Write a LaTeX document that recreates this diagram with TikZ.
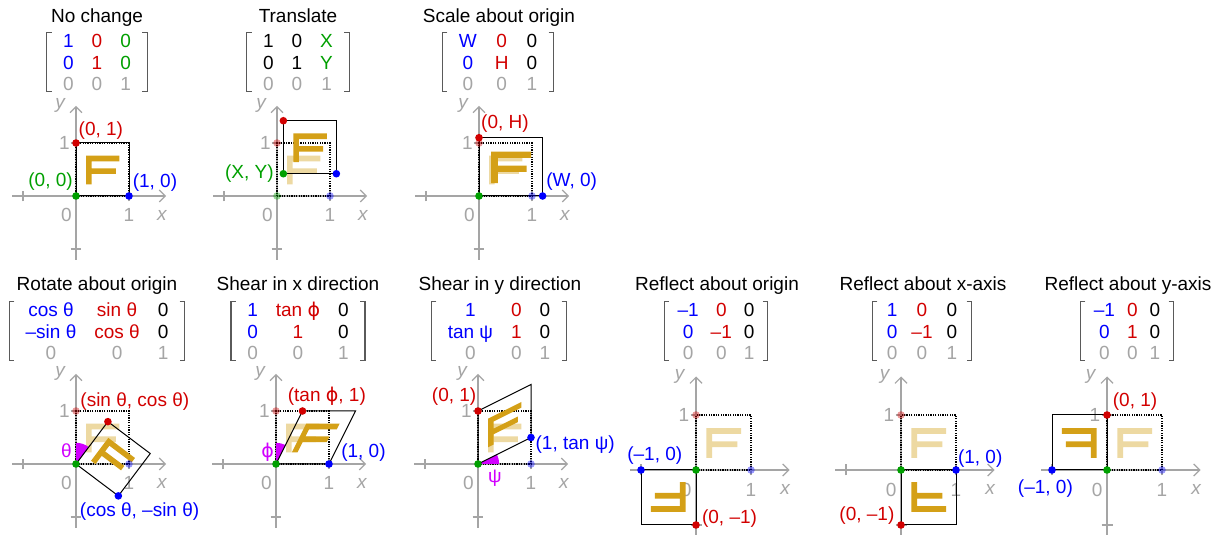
\documentclass[tikz,border=0pt]{standalone}
\usepackage{fontspec}
\setmainfont{Liberation Sans}
\newfontfamily\phifont{DejaVu Sans}
\usetikzlibrary{arrows.meta}
\definecolor{cblue}{RGB}{0,0,255}
\definecolor{cred}{RGB}{210,0,0}
\definecolor{cgreen}{RGB}{0,160,0}
\definecolor{cgray}{RGB}{165,165,165}
\definecolor{cgold}{RGB}{212,160,23}
\definecolor{cmag}{RGB}{210,0,255}
\definecolor{cbrack}{RGB}{90,90,90}
\newcommand\colB[1]{\textcolor{cblue}{#1}}
\newcommand\colR[1]{\textcolor{cred}{#1}}
\newcommand\colG[1]{\textcolor{cgreen}{#1}}
\newcommand\colY[1]{\textcolor{cgray}{#1}}
\newcommand\myphi{{\phifont ϕ}}
\setlength\tabcolsep{4.5pt}
\newcommand\Fglyph{(0.19,0.22) -- (0.295,0.22) -- (0.295,0.415) -- (0.75,0.415) -- (0.75,0.52) -- (0.295,0.52) -- (0.295,0.655) -- (0.82,0.655) -- (0.82,0.76) -- (0.19,0.76) -- cycle}
\newcommand\usq{(0,0) -- (1,0) -- (1,1) -- (0,1) -- cycle}
\tikzset{
 txt/.style={font=\fontsize{9.5}{10.8}\selectfont, inner sep=0pt},
 title/.style={txt, anchor=base},
 mat/.style={txt, inner xsep=3.5pt, inner ysep=0pt},
 brack/.style={cbrack, line width=0.6pt},
 axisline/.style={cgray, line width=0.6pt, -{Straight Barb[length=3pt,width=6pt]}},
 tickline/.style={cgray, line width=0.6pt},
 ticklbl/.style={txt, text=cgray},
 axlbl/.style={txt, text=cgray, font=\fontsize{9.5}{10.8}\selectfont\itshape},
 dot/.style={circle, inner sep=0pt, minimum size=3.8pt, fill=#1},
 fdot/.style={circle, inner sep=0pt, minimum size=3.8pt, fill=#1, fill opacity=0.4},
 newshape/.style={black, line width=0.5pt},
 origshape/.style={black, line width=0.55pt, dash pattern=on 0.6pt off 0.6pt},
 Ffull/.style={fill=cgold},
 Ffade/.style={fill=cgold, fill opacity=0.4},
 wedge/.style={fill=cmag},
 lbl/.style={txt, text=#1},
}
\newcommand\drawaxes[1]{%
 \draw[axisline] (-1.2,0) -- (1.7,0);
 \draw[axisline] (0,-1.2) -- (0,1.7);
 \draw[tickline] (-1,-0.1) -- (-1,0.1) (1,-0.1) -- (1,0.1) (-0.1,-1) -- (0.1,-1) (-0.1,1) -- (0.1,1);
 \node[ticklbl] (#1o) at (-0.18,-0.36) {0};
 \node[ticklbl] (#1xa) at (1,-0.36) {1};
 \node[ticklbl] (#1ya) at (-0.22,1) {1};
 \node[axlbl] (#1x) at (1.62,-0.36) {x};
 \node[axlbl] (#1y) at (-0.3,1.7) {y};
}
\newcommand\brk[1]{%
 \draw[brack] ([xshift=2.5pt]#1.north west) -- (#1.north west) -- ([yshift=3.2pt]#1.south west) -- ++(2.5pt,0);
 \draw[brack] ([xshift=-2.5pt]#1.north east) -- (#1.north east) -- ([yshift=3.2pt]#1.south east) -- ++(-2.5pt,0);}
\begin{document}
\begin{tikzpicture}[x=0.5pt,y=0.5pt]
\useasboundingbox[fill=white] (0,0) rectangle (1222,535);

% ---------- titles ----------
\node[title] (t1) at (97,512.3) {No change};
\node[title] (t2) at (298,512.3) {Translate};
\node[title] (t3) at (499,512.3) {Scale about origin};
\node[title] (t4) at (97,244.3) {Rotate about origin};
\node[title] (t5) at (298,244.3) {Shear in x direction};
\node[title] (t6) at (500,244.3) {Shear in y direction};
\node[title] (t7) at (717,244.3) {Reflect about origin};
\node[title] (t8) at (923,244.3) {Reflect about x-axis};
\node[title] (t9) at (1128,244.3) {Reflect about y-axis};

% ---------- matrices ----------
\node[mat] (m1) at (97,470) {\begin{tabular}{ccc}\colB{1}&\colR{0}&\colG{0}\\\colB{0}&\colR{1}&\colG{0}\\\colY{0}&\colY{0}&\colY{1}\end{tabular}};
\node[mat] (m2) at (298,470) {\begin{tabular}{ccc}1&0&\colG{X}\\0&1&\colG{Y}\\\colY{0}&\colY{0}&\colY{1}\end{tabular}};
\node[mat] (m3) at (498,470) {\begin{tabular}{ccc}\colB{W}&\colR{0}&0\\\colB{0}&\colR{H}&0\\\colY{0}&\colY{0}&\colY{1}\end{tabular}};
\node[mat] (m4) at (97,201) {\begin{tabular}{ccc}\colB{cos θ}&\colR{sin θ}&0\\\colB{–sin θ}&\colR{cos θ}&0\\\colY{0}&\colY{0}&\colY{1}\end{tabular}};
\node[mat] (m5) at (298,201) {\begin{tabular}{ccc}\colB{1}&\colR{tan \myphi}&0\\\colB{0}&\colR{1}&0\\\colY{0}&\colY{0}&\colY{1}\end{tabular}};
\node[mat] (m6) at (499,201) {\begin{tabular}{ccc}\colB{1}&\colR{0}&0\\\colB{tan ψ}&\colR{1}&0\\\colY{0}&\colY{0}&\colY{1}\end{tabular}};
\node[mat] (m7) at (716,201) {\setlength\tabcolsep{3pt}\begin{tabular}{ccc}\colB{–1}&\colR{0}&0\\\colB{0}&\colR{–1}&0\\\colY{0}&\colY{0}&\colY{1}\end{tabular}};
\node[mat] (m8) at (922,201) {\setlength\tabcolsep{3.5pt}\begin{tabular}{ccc}\colB{1}&\colR{0}&0\\\colB{0}&\colR{–1}&0\\\colY{0}&\colY{0}&\colY{1}\end{tabular}};
\node[mat] (m9) at (1127,201) {\setlength\tabcolsep{3pt}\begin{tabular}{ccc}\colB{–1}&\colR{0}&0\\\colB{0}&\colR{1}&0\\\colY{0}&\colY{0}&\colY{1}\end{tabular}};
\brk{m1}\brk{m2}\brk{m3}\brk{m4}\brk{m5}\brk{m6}\brk{m7}\brk{m8}\brk{m9}

% ---------- panel 1: no change ----------
\begin{scope}[shift={(76,339)},scale=53]
 \drawaxes{a}
 \fill[Ffull] \Fglyph;
 \draw[origshape] \usq;
 \draw[newshape] \usq;
 \node[dot=cred] (a01) at (0,1) {};
 \node[dot=cblue] (a10) at (1,0) {};
 \node[dot=cgreen] (a00) at (0,0) {};
 \node[lbl=cred] (aL1) at (0.47,1.23) {(0, 1)};
 \node[lbl=cgreen] (aL2) at (-0.48,0.27) {(0, 0)};
 \node[lbl=cblue] (aL3) at (1.49,0.25) {(1, 0)};
\end{scope}

% ---------- panel 2: translate ----------
\begin{scope}[shift={(277,339)},scale=53]
 \drawaxes{b}
 \fill[Ffade] \Fglyph;
 \draw[origshape] \usq;
 \begin{scope}[shift={(0.12,0.42)}]
  \fill[Ffull] \Fglyph;
  \draw[newshape] \usq;
 \end{scope}
 \node[fdot=cred] (bf01) at (0,1) {};
 \node[fdot=cblue] (bf10) at (1,0) {};
 \node[fdot=cgreen] (bf00) at (0,0) {};
 \node[dot=cred] (b01) at (0.12,1.42) {};
 \node[dot=cblue] (b10) at (1.12,0.42) {};
 \node[dot=cgreen] (b00) at (0.12,0.42) {};
 \node[lbl=cgreen] (bL1) at (-0.52,0.43) {(X, Y)};
\end{scope}

% ---------- panel 3: scale ----------
\begin{scope}[shift={(479,339)},scale=53]
 \drawaxes{c}
 \fill[Ffade] \Fglyph;
 \draw[origshape] \usq;
 \fill[Ffull, cm={1.2,0,0,1.1,(0,0)}] \Fglyph;
 \draw[newshape, cm={1.2,0,0,1.1,(0,0)}] \usq;
 \node[fdot=cred] (cf01) at (0,1) {};
 \node[fdot=cblue] (cf10) at (1,0) {};
 \node[dot=cred] (c01) at (0,1.1) {};
 \node[dot=cblue] (c10) at (1.2,0) {};
 \node[dot=cgreen] (c00) at (0,0) {};
 \node[lbl=cred] (cL1) at (0.49,1.37) {(0, H)};
 \node[lbl=cblue] (cL2) at (1.75,0.27) {(W, 0)};
\end{scope}

% ---------- panel 4: rotate ----------
\begin{scope}[shift={(76,71)},scale=53]
 \drawaxes{d}
 \fill[Ffade] \Fglyph;
 \draw[origshape] \usq;
 \fill[wedge] (0,0) -- (0,0.4) arc[start angle=90,end angle=53,radius=0.4] -- cycle;
 \fill[Ffull, cm={0.799,-0.602,0.602,0.799,(0,0)}] \Fglyph;
 \draw[newshape, cm={0.799,-0.602,0.602,0.799,(0,0)}] \usq;
 \node[fdot=cred] (df01) at (0,1) {};
 \node[fdot=cblue] (df10) at (1,0) {};
 \node[dot=cred] (d01) at (0.602,0.799) {};
 \node[dot=cblue] (d10) at (0.799,-0.602) {};
 \node[dot=cgreen] (d00) at (0,0) {};
 \node[lbl=cred] (dL1) at (1.11,1.18) {(sin θ, cos θ)};
 \node[lbl=cblue] (dL2) at (1.2,-0.9) {(cos θ, –sin θ)};
 \node[lbl=cmag] (dL3) at (-0.18,0.26) {θ};
\end{scope}

% ---------- panel 5: shear x ----------
\begin{scope}[shift={(276,71)},scale=53]
 \drawaxes{e}
 \fill[Ffade] \Fglyph;
 \draw[origshape] \usq;
 \fill[wedge] (0,0) -- (0,0.4) arc[start angle=90,end angle=63.43,radius=0.4] -- cycle;
 \fill[Ffull, cm={1,0,0.5,1,(0,0)}] \Fglyph;
 \draw[newshape, cm={1,0,0.5,1,(0,0)}] \usq;
 \node[fdot=cred] (ef01) at (0,1) {};
 \node[dot=cred] (e01) at (0.5,1) {};
 \node[dot=cblue] (e10) at (1,0) {};
 \node[dot=cgreen] (e00) at (0,0) {};
 \node[lbl=cred] (eL1) at (0.96,1.27) {(tan \myphi, 1)};
 \node[lbl=cblue] (eL2) at (1.65,0.21) {(1, 0)};
 \node[lbl=cmag] (eL3) at (-0.16,0.23) {\myphi};
\end{scope}

% ---------- panel 6: shear y ----------
\begin{scope}[shift={(478,71)},scale=53]
 \drawaxes{f}
 \fill[Ffade] \Fglyph;
 \draw[origshape] \usq;
 \fill[wedge] (0,0) -- (0.4,0) arc[start angle=0,end angle=26.57,radius=0.4] -- cycle;
 \fill[Ffull, cm={1,0.5,0,1,(0,0)}] \Fglyph;
 \draw[newshape, cm={1,0.5,0,1,(0,0)}] \usq;
 \node[fdot=cblue] (ff10) at (1,0) {};
 \node[dot=cred] (f01) at (0,1) {};
 \node[dot=cblue] (f10) at (1,0.5) {};
 \node[dot=cgreen] (f00) at (0,0) {};
 \node[lbl=cred] (fL1) at (-0.45,1.27) {(0, 1)};
 \node[lbl=cblue, anchor=west] (fL2) at (1.08,0.36) {(1, tan ψ)};
 \node[lbl=cmag] (fL3) at (0.32,-0.27) {ψ};
\end{scope}

% ---------- panel 7: reflect origin ----------
\begin{scope}[shift={(696,65)},scale=55]
 \drawaxes{g}
 \fill[Ffade] \Fglyph;
 \draw[origshape] \usq;
 \fill[Ffull, cm={-1,0,0,-1,(0,0)}] \Fglyph;
 \draw[newshape, cm={-1,0,0,-1,(0,0)}] \usq;
 \node[fdot=cred] (gf01) at (0,1) {};
 \node[fdot=cblue] (gf10) at (1,0) {};
 \node[dot=cred] (g01) at (0,-1) {};
 \node[dot=cblue] (g10) at (-1,0) {};
 \node[dot=cgreen] (g00) at (0,0) {};
 \node[lbl=cblue] (gL1) at (-0.75,0.27) {(–1, 0)};
 \node[lbl=cred] (gL2) at (0.61,-0.88) {(0, –1)};
\end{scope}

% ---------- panel 8: reflect x-axis ----------
\begin{scope}[shift={(901,65)},scale=55]
 \drawaxes{h}
 \fill[Ffade] \Fglyph;
 \draw[origshape] \usq;
 \fill[Ffull, cm={1,0,0,-1,(0,0)}] \Fglyph;
 \draw[newshape, cm={1,0,0,-1,(0,0)}] \usq;
 \node[fdot=cred] (hf01) at (0,1) {};
 \node[dot=cred] (h01) at (0,-1) {};
 \node[dot=cblue] (h10) at (1,0) {};
 \node[dot=cgreen] (h00) at (0,0) {};
 \node[lbl=cblue] (hL1) at (1.44,0.21) {(1, 0)};
 \node[lbl=cred] (hL2) at (-0.62,-0.82) {(0, –1)};
\end{scope}

% ---------- panel 9: reflect y-axis ----------
\begin{scope}[shift={(1107,65)},scale=55]
 \drawaxes{i}
 \fill[Ffade] \Fglyph;
 \draw[origshape] \usq;
 \fill[Ffull, cm={-1,0,0,1,(0,0)}] \Fglyph;
 \draw[newshape, cm={-1,0,0,1,(0,0)}] \usq;
 \node[fdot=cblue] (if10) at (1,0) {};
 \node[dot=cred] (i01) at (0,1) {};
 \node[dot=cblue] (i10) at (-1,0) {};
 \node[dot=cgreen] (i00) at (0,0) {};
 \node[lbl=cred] (iL1) at (0.51,1.24) {(0, 1)};
 \node[lbl=cblue] (iL2) at (-1.12,-0.33) {(–1, 0)};
\end{scope}
\end{tikzpicture}
\end{document}
